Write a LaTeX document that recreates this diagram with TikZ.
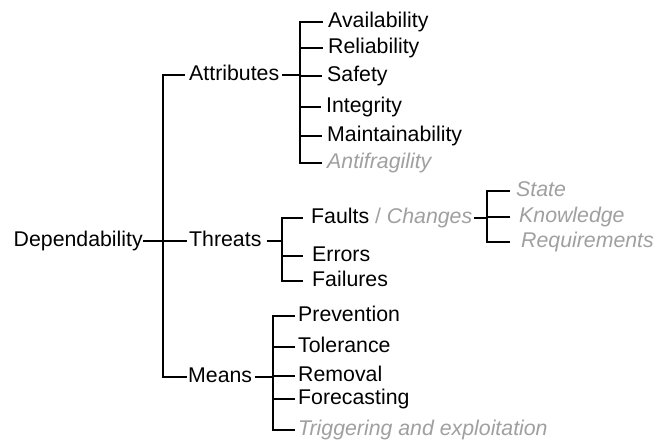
\documentclass[tikz,border=0pt]{standalone}
\usepackage{fontspec}
\setmainfont{Liberation Sans}
\definecolor{softgray}{RGB}{160,160,160}
\begin{document}
\begin{tikzpicture}[x=1pt,y=-1pt,
  lbl/.style={anchor=west,inner sep=0pt,text height=15.2pt,text depth=4.6pt,font=\fontsize{21.3}{25}\selectfont},
  soft/.style={lbl,text=softgray,font=\fontsize{21.3}{25}\selectfont\itshape},
  conn/.style={line width=1.4pt}]
\useasboundingbox[fill=white] (0,0) rectangle (668,441);
% top level
\node[lbl] (dep) at (13.5,241) {Dependability};
\node[lbl] (attr) at (189,75) {Attributes};
\node[lbl] (thr) at (189,241) {Threats};
\node[lbl] (means) at (188,377) {Means};
\coordinate (mx) at (163,241);
\draw[conn] (dep.east) -- ([xshift=-2pt]thr.west);
\draw[conn] ([xshift=-4pt]attr.west) -| (mx) |- ([xshift=-1pt]means.west);
% attributes
\node[lbl] (avail) at (328,22) {Availability};
\node[lbl] (reli) at (328,48) {Reliability};
\node[lbl] (safe) at (327,76) {Safety};
\node[lbl] (integ) at (326,107) {Integrity};
\node[lbl] (maint) at (327,136) {Maintainability};
\node[soft] (anti) at (327,163) {Antifragility};
\coordinate (ab) at (300,75);
\draw[conn] ([xshift=3pt]attr.east) -- (ab);
\draw[conn] ([xshift=-5pt]avail.west) -| (ab |- anti.west) -- ([xshift=-5pt]anti.west);
\foreach \c in {reli,safe,integ,maint} \draw[conn] (ab |- \c.west) -- ([xshift=-5pt]\c.west);
% threats
\node[lbl] (faults) at (311,218) {Faults {\color{softgray} / \itshape Changes}};
\node[lbl] (err) at (312,256) {Errors};
\node[lbl] (fail) at (312,281) {Failures};
\coordinate (tb) at (282,241);
\draw[conn] ([xshift=5pt]thr.east) -- (tb);
\draw[conn] ([xshift=-8pt]faults.west) -| (tb |- fail.west) -- ([xshift=-9pt]fail.west);
\draw[conn] (tb |- err.west) -- ([xshift=-9pt]err.west);
% changes
\node[soft] (state) at (516,191) {State};
\node[soft] (know) at (519,217) {Knowledge};
\node[soft] (req) at (521,242) {Requirements};
\coordinate (cb) at (487,217);
\draw[conn] ([xshift=2pt]faults.east) -- (cb |- faults.east);
\draw[conn] ([xshift=-6pt]state.west) -| (cb |- req.west) -- ([xshift=-11pt]req.west);
\draw[conn] (cb |- know.west) -- ([xshift=-9pt]know.west);
% means
\node[lbl] (prev) at (298,316) {Prevention};
\node[lbl] (tol) at (298,347) {Tolerance};
\node[lbl] (rem) at (298,376) {Removal};
\node[lbl] (fore) at (298,399) {Forecasting};
\node[soft] (trig) at (298,430) {Triggering and exploitation};
\coordinate (mb) at (273,377);
\draw[conn] ([xshift=3pt]means.east) -- (mb);
\draw[conn] ([xshift=-3pt]prev.west) -| (mb |- trig.west) -- ([xshift=-3pt]trig.west);
\foreach \c in {tol,rem,fore} \draw[conn] (mb |- \c.west) -- ([xshift=-3pt]\c.west);
\end{tikzpicture}
\end{document}
